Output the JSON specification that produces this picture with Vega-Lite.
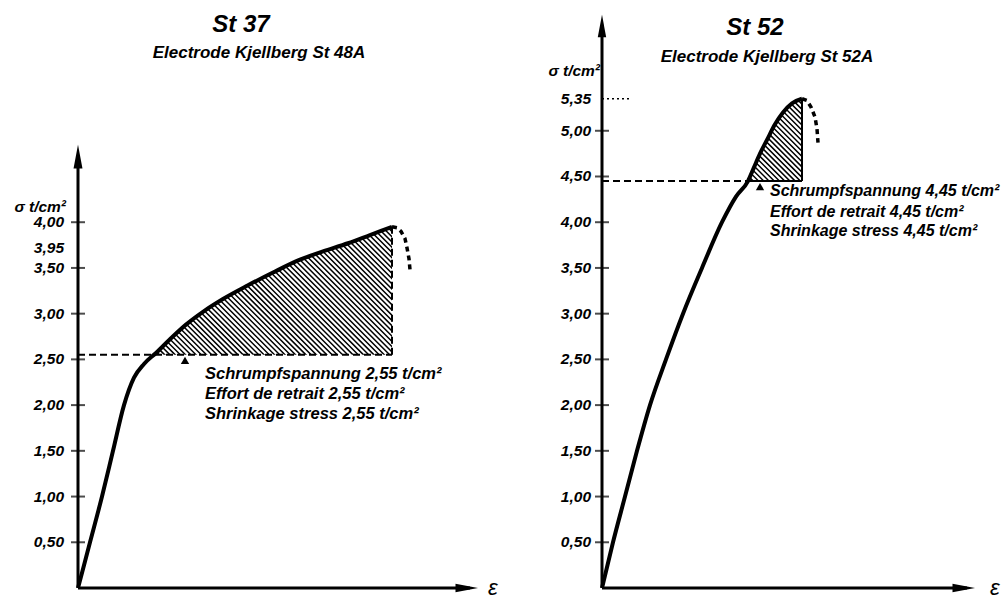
{
  "$schema": "https://vega.github.io/schema/vega-lite/v6.json",
  "padding": 0,
  "spacing": 0,
  "bounds": "flush",
  "config": {
    "view": {"stroke": null},
    "text": {"font": "Liberation Sans", "fontStyle": "italic", "fontWeight": "bold", "color": "black"}
  },
  "datasets": {
    "curveL": [
      {"e": 0, "s": 0}, {"e": 12, "s": 0.5}, {"e": 24, "s": 1.0}, {"e": 35, "s": 1.5}, {"e": 46, "s": 2.0},
      {"e": 56, "s": 2.3}, {"e": 66, "s": 2.45}, {"e": 78, "s": 2.57}, {"e": 92, "s": 2.72}, {"e": 108, "s": 2.88},
      {"e": 125, "s": 3.02}, {"e": 145, "s": 3.16}, {"e": 170, "s": 3.31}, {"e": 195, "s": 3.45}, {"e": 222, "s": 3.59},
      {"e": 245, "s": 3.68}, {"e": 270, "s": 3.77}, {"e": 292, "s": 3.86}, {"e": 314, "s": 3.95}
    ],
    "tailL": [
      {"o": 1, "e": 314, "s": 3.95}, {"o": 2, "e": 319, "s": 3.94}, {"o": 3, "e": 323, "s": 3.9}, {"o": 4, "e": 327, "s": 3.82},
      {"o": 5, "e": 329, "s": 3.72}, {"o": 6, "e": 331, "s": 3.6}, {"o": 7, "e": 332, "s": 3.48}
    ],
    "bandL": [{"e": 46, "s": 1.61}, {"e": 346, "s": 4.89}],
    "maskL": [
      {"e": -78, "e2": 444, "s": 0, "s2": 2.55},
      {"e": -78, "e2": 80, "s": 2.53, "s2": 6.43},
      {"e": 314, "e2": 444, "s": 2.53, "s2": 6.43}
    ],
    "dashL": [
      {"e": 0, "e2": 314, "s": 2.55, "s2": 2.55},
      {"e": 314, "e2": 314, "s": 2.55, "s2": 3.95}
    ],
    "axisL": [
      {"e": 0, "e2": 0, "s": 0, "s2": 4.7},
      {"e": 0, "e2": 392, "s": 0, "s2": 0}
    ],
    "upL": [{"e": 0, "s": 4.85}],
    "rightL": [{"e": 400, "s": 0}],
    "ticksL": [
      {"e": 0, "s": 0.5, "t": "0,50"}, {"e": 0, "s": 1.0, "t": "1,00"}, {"e": 0, "s": 1.5, "t": "1,50"},
      {"e": 0, "s": 2.0, "t": "2,00"}, {"e": 0, "s": 2.5, "t": "2,50"}, {"e": 0, "s": 3.0, "t": "3,00"},
      {"e": 0, "s": 3.5, "t": "3,50"}, {"e": 0, "s": 4.0, "t": "4,00"}
    ],
    "extraL": [{"e": 0, "s": 3.95, "t": "3,95"}],
    "sigmaL": [{"e": 0, "s": 4.17, "t": "σ t/cm²"}],
    "markL": [{"e": 107, "s": 2.49}],
    "noteL": [
      {"e": 127, "s": 2.34, "t": "Schrumpfspannung  2,55 t/cm²"},
      {"e": 127, "s": 2.12, "t": "Effort de retrait  2,55 t/cm²"},
      {"e": 127, "s": 1.9, "t": "Shrinkage stress 2,55 t/cm²"}
    ],
    "titleL": [{"e": 163, "s": 6.16, "t": "St 37"}],
    "subL": [{"e": 181, "s": 5.85, "t": "Electrode Kjellberg St 48A"}],
    "epsL": [{"e": 410, "s": 0, "t": "ε"}],

    "curveR": [
      {"e": 0, "s": 0}, {"e": 11, "s": 0.5}, {"e": 23, "s": 1.0}, {"e": 35, "s": 1.5}, {"e": 48, "s": 2.0},
      {"e": 64, "s": 2.5}, {"e": 81, "s": 3.0}, {"e": 100, "s": 3.5}, {"e": 120, "s": 4.0}, {"e": 134, "s": 4.28},
      {"e": 146, "s": 4.45}, {"e": 152, "s": 4.6}, {"e": 158, "s": 4.75}, {"e": 165, "s": 4.9}, {"e": 173, "s": 5.07},
      {"e": 181, "s": 5.2}, {"e": 190, "s": 5.3}, {"e": 200, "s": 5.35}
    ],
    "tailR": [
      {"o": 1, "e": 200, "s": 5.35}, {"o": 2, "e": 205, "s": 5.33}, {"o": 3, "e": 209, "s": 5.26},
      {"o": 4, "e": 213, "s": 5.15}, {"o": 5, "e": 215, "s": 5.02}, {"o": 6, "e": 216, "s": 4.87}
    ],
    "bandR": [{"e": 84, "s": 3.916}, {"e": 264, "s": 5.884}],
    "maskR": [
      {"e": -80, "e2": 406, "s": 0, "s2": 4.45},
      {"e": -80, "e2": 148, "s": 4.43, "s2": 6.43},
      {"e": 200, "e2": 406, "s": 4.43, "s2": 6.43}
    ],
    "dashR": [{"e": 0, "e2": 146, "s": 4.45, "s2": 4.45}],
    "solidR": [
      {"e": 146, "e2": 200, "s": 4.45, "s2": 4.45},
      {"e": 200, "e2": 200, "s": 4.45, "s2": 5.35}
    ],
    "dotR": [{"e": 0, "e2": 30, "s": 5.35, "s2": 5.35}],
    "axisR": [
      {"e": 0, "e2": 0, "s": 0, "s2": 6.1},
      {"e": 0, "e2": 365, "s": 0, "s2": 0}
    ],
    "upR": [{"e": 0, "s": 6.27}],
    "rightR": [{"e": 373, "s": 0}],
    "ticksR": [
      {"e": 0, "s": 0.5}, {"e": 0, "s": 1.0}, {"e": 0, "s": 1.5}, {"e": 0, "s": 2.0}, {"e": 0, "s": 2.5},
      {"e": 0, "s": 3.0}, {"e": 0, "s": 3.5}, {"e": 0, "s": 4.0}, {"e": 0, "s": 4.5}, {"e": 0, "s": 5.0}
    ],
    "labelsR": [
      {"e": 0, "s": 0.5, "t": "0,50"}, {"e": 0, "s": 1.0, "t": "1,00"}, {"e": 0, "s": 1.5, "t": "1,50"},
      {"e": 0, "s": 2.0, "t": "2,00"}, {"e": 0, "s": 2.5, "t": "2,50"}, {"e": 0, "s": 3.0, "t": "3,00"},
      {"e": 0, "s": 3.5, "t": "3,50"}, {"e": 0, "s": 4.0, "t": "4,00"}, {"e": 0, "s": 4.5, "t": "4,50"},
      {"e": 0, "s": 5.0, "t": "5,00"}, {"e": 0, "s": 5.35, "t": "5,35"}
    ],
    "sigmaR": [{"e": 0, "s": 5.65, "t": "σ t/cm²"}],
    "markR": [{"e": 158, "s": 4.39}],
    "noteR": [
      {"e": 168, "s": 4.34, "t": "Schrumpfspannung 4,45 t/cm²"},
      {"e": 168, "s": 4.11, "t": "Effort de retrait  4,45 t/cm²"},
      {"e": 168, "s": 3.9, "t": "Shrinkage stress  4,45 t/cm²"}
    ],
    "titleR": [{"e": 153, "s": 6.12, "t": "St 52"}],
    "subR": [{"e": 165, "s": 5.81, "t": "Electrode Kjellberg St 52A"}],
    "epsR": [{"e": 388, "s": 0, "t": "ε"}]
  },
  "hconcat": [
    {
      "width": 522,
      "height": 588,
      "encoding": {
        "x": {"field": "e", "type": "quantitative", "scale": {"domain": [-78, 444], "nice": false, "zero": false}, "axis": null},
        "y": {"field": "s", "type": "quantitative", "scale": {"domain": [0, 6.43], "nice": false, "zero": false}, "axis": null}
      },
      "layer": [
        {"data": {"name": "bandL"}, "mark": {"type": "line", "clip": true, "color": "black", "strokeWidth": 300, "strokeDash": [1.5, 2.2], "strokeCap": "butt"}},
        {"data": {"name": "maskL"}, "mark": {"type": "rect", "color": "white", "strokeWidth": 0}, "encoding": {"x2": {"field": "e2"}, "y2": {"field": "s2"}}},
        {"data": {"name": "curveL"}, "transform": [{"filter": "datum.e >= 78"}], "mark": {"type": "area", "color": "white", "opacity": 1, "interpolate": "monotone"}, "encoding": {"y2": {"datum": 6.43}}},
        {"data": {"name": "dashL"}, "mark": {"type": "rule", "color": "black", "strokeWidth": 2, "strokeDash": [7, 4]}, "encoding": {"x2": {"field": "e2"}, "y2": {"field": "s2"}}},
        {"data": {"name": "curveL"}, "mark": {"type": "line", "color": "black", "strokeWidth": 4, "interpolate": "monotone"}},
        {"data": {"name": "tailL"}, "mark": {"type": "line", "color": "black", "strokeWidth": 3.5, "strokeDash": [5, 4]}, "encoding": {"order": {"field": "o"}}},
        {"data": {"name": "axisL"}, "mark": {"type": "rule", "color": "black", "strokeWidth": 3}, "encoding": {"x2": {"field": "e2"}, "y2": {"field": "s2"}}},
        {"data": {"name": "upL"}, "mark": {"type": "point", "shape": "M0,0L0.28,1.5L-0.28,1.5Z", "size": 1024, "filled": true, "color": "black", "opacity": 1}},
        {"data": {"name": "rightL"}, "mark": {"type": "point", "shape": "M0,0L-1.5,-0.28L-1.5,0.28Z", "size": 900, "filled": true, "color": "black", "opacity": 1}},
        {"data": {"name": "ticksL"}, "mark": {"type": "tick", "orient": "horizontal", "size": 14, "thickness": 2, "color": "black"}},
        {"data": {"name": "ticksL"}, "mark": {"type": "text", "align": "right", "baseline": "middle", "dx": -14, "fontSize": 15.5}, "encoding": {"text": {"field": "t"}}},
        {"data": {"name": "extraL"}, "mark": {"type": "text", "align": "right", "baseline": "middle", "dx": -14, "dy": 21, "fontSize": 15.5}, "encoding": {"text": {"field": "t"}}},
        {"data": {"name": "sigmaL"}, "mark": {"type": "text", "align": "right", "baseline": "middle", "dx": -12, "fontSize": 15.5}, "encoding": {"text": {"field": "t"}}},
        {"data": {"name": "markL"}, "mark": {"type": "point", "shape": "triangle-up", "size": 70, "filled": true, "color": "black", "opacity": 1}},
        {"data": {"name": "noteL"}, "mark": {"type": "text", "align": "left", "baseline": "middle", "fontSize": 16.5}, "encoding": {"text": {"field": "t"}}},
        {"data": {"name": "titleL"}, "mark": {"type": "text", "align": "center", "baseline": "middle", "fontSize": 24}, "encoding": {"text": {"field": "t"}}},
        {"data": {"name": "subL"}, "mark": {"type": "text", "align": "center", "baseline": "middle", "fontSize": 17}, "encoding": {"text": {"field": "t"}}},
        {"data": {"name": "epsL"}, "mark": {"type": "text", "align": "left", "baseline": "middle", "fontSize": 22, "fontWeight": "normal"}, "encoding": {"text": {"field": "t"}}}
      ]
    },
    {
      "width": 486,
      "height": 588,
      "encoding": {
        "x": {"field": "e", "type": "quantitative", "scale": {"domain": [-80, 406], "nice": false, "zero": false}, "axis": null},
        "y": {"field": "s", "type": "quantitative", "scale": {"domain": [0, 6.43], "nice": false, "zero": false}, "axis": null}
      },
      "layer": [
        {"data": {"name": "bandR"}, "mark": {"type": "line", "clip": true, "color": "black", "strokeWidth": 130, "strokeDash": [1.5, 2.2], "strokeCap": "butt"}},
        {"data": {"name": "maskR"}, "mark": {"type": "rect", "color": "white", "strokeWidth": 0}, "encoding": {"x2": {"field": "e2"}, "y2": {"field": "s2"}}},
        {"data": {"name": "curveR"}, "transform": [{"filter": "datum.e >= 146"}], "mark": {"type": "area", "color": "white", "opacity": 1, "interpolate": "monotone"}, "encoding": {"y2": {"datum": 6.43}}},
        {"data": {"name": "dashR"}, "mark": {"type": "rule", "color": "black", "strokeWidth": 2, "strokeDash": [7, 4]}, "encoding": {"x2": {"field": "e2"}, "y2": {"field": "s2"}}},
        {"data": {"name": "solidR"}, "mark": {"type": "rule", "color": "black", "strokeWidth": 2}, "encoding": {"x2": {"field": "e2"}, "y2": {"field": "s2"}}},
        {"data": {"name": "dotR"}, "mark": {"type": "rule", "color": "black", "strokeWidth": 1.5, "strokeDash": [2, 3]}, "encoding": {"x2": {"field": "e2"}, "y2": {"field": "s2"}}},
        {"data": {"name": "curveR"}, "mark": {"type": "line", "color": "black", "strokeWidth": 4, "interpolate": "monotone"}},
        {"data": {"name": "tailR"}, "mark": {"type": "line", "color": "black", "strokeWidth": 3.5, "strokeDash": [5, 4]}, "encoding": {"order": {"field": "o"}}},
        {"data": {"name": "axisR"}, "mark": {"type": "rule", "color": "black", "strokeWidth": 3}, "encoding": {"x2": {"field": "e2"}, "y2": {"field": "s2"}}},
        {"data": {"name": "upR"}, "mark": {"type": "point", "shape": "M0,0L0.28,1.5L-0.28,1.5Z", "size": 900, "filled": true, "color": "black", "opacity": 1}},
        {"data": {"name": "rightR"}, "mark": {"type": "point", "shape": "M0,0L-1.5,-0.28L-1.5,0.28Z", "size": 900, "filled": true, "color": "black", "opacity": 1}},
        {"data": {"name": "ticksR"}, "mark": {"type": "tick", "orient": "horizontal", "size": 14, "thickness": 2, "color": "black"}},
        {"data": {"name": "labelsR"}, "mark": {"type": "text", "align": "right", "baseline": "middle", "dx": -11, "fontSize": 15.5}, "encoding": {"text": {"field": "t"}}},
        {"data": {"name": "sigmaR"}, "mark": {"type": "text", "align": "right", "baseline": "middle", "dx": -2, "fontSize": 15.5}, "encoding": {"text": {"field": "t"}}},
        {"data": {"name": "markR"}, "mark": {"type": "point", "shape": "triangle-up", "size": 70, "filled": true, "color": "black", "opacity": 1}},
        {"data": {"name": "noteR"}, "mark": {"type": "text", "align": "left", "baseline": "middle", "fontSize": 16}, "encoding": {"text": {"field": "t"}}},
        {"data": {"name": "titleR"}, "mark": {"type": "text", "align": "center", "baseline": "middle", "fontSize": 24}, "encoding": {"text": {"field": "t"}}},
        {"data": {"name": "subR"}, "mark": {"type": "text", "align": "center", "baseline": "middle", "fontSize": 17}, "encoding": {"text": {"field": "t"}}},
        {"data": {"name": "epsR"}, "mark": {"type": "text", "align": "left", "baseline": "middle", "fontSize": 22, "fontWeight": "normal"}, "encoding": {"text": {"field": "t"}}}
      ]
    }
  ]
}
